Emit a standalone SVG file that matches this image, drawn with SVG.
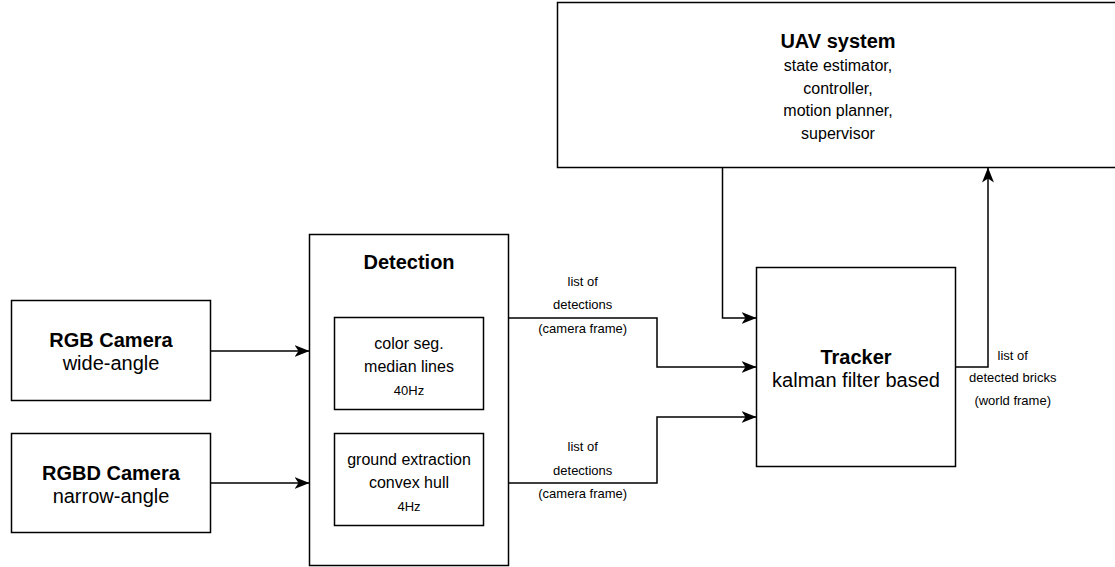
<svg xmlns="http://www.w3.org/2000/svg" width="1115" height="567" viewBox="0 0 1115 567">
<style>
  .box { fill: #ffffff; stroke: #000000; stroke-width: 1.5; }
  .edge { fill: none; stroke: #000000; stroke-width: 1.5; }
  text { font-family: "Liberation Sans", Arial, sans-serif; fill: #000000; text-anchor: middle; }
  .t { font-size: 20px; font-weight: bold; }
  .n { font-size: 20px; }
  .m { font-size: 16px; }
  .s { font-size: 13px; }
</style>
<defs>
  <marker id="arrow" viewBox="0 0 15 12" refX="15" refY="6" markerWidth="15" markerHeight="12" markerUnits="userSpaceOnUse" orient="auto">
    <path d="M0,0 L15,6 L0,12 L4,6 Z" fill="#000000"/>
  </marker>
</defs>
<rect width="1115" height="567" fill="#ffffff"/>

<g id="uav">
  <rect class="box" x="557.5" y="2.5" width="561" height="165"/>
  <text class="t" x="838" y="47.7">UAV system</text>
  <text class="m" x="838" y="71.4">state estimator,</text>
  <text class="m" x="838" y="94">controller,</text>
  <text class="m" x="838" y="116.4">motion planner,</text>
  <text class="m" x="838" y="139">supervisor</text>
</g>

<g id="rgb-camera">
  <rect class="box" x="11.5" y="300.5" width="199" height="100"/>
  <text class="t" x="111" y="347">RGB Camera</text>
  <text class="n" x="111" y="370">wide-angle</text>
</g>

<g id="rgbd-camera">
  <rect class="box" x="11.5" y="433.5" width="199" height="99"/>
  <text class="t" x="111" y="480">RGBD Camera</text>
  <text class="n" x="111" y="503">narrow-angle</text>
</g>

<g id="detection">
  <rect class="box" x="309.5" y="234.5" width="199" height="331"/>
  <text class="t" x="409" y="269">Detection</text>
</g>

<g id="color-seg">
  <rect class="box" x="334.5" y="317.5" width="149" height="92"/>
  <text class="m" x="409" y="348.7">color seg.</text>
  <text class="m" x="409" y="372.4">median lines</text>
  <text class="s" x="409" y="395.3">40Hz</text>
</g>

<g id="ground-extraction">
  <rect class="box" x="334.5" y="433.5" width="149" height="92"/>
  <text class="m" x="409" y="464.7">ground extraction</text>
  <text class="m" x="409" y="487.7">convex hull</text>
  <text class="s" x="409" y="510.6">4Hz</text>
</g>

<g id="tracker">
  <rect class="box" x="756.5" y="267.5" width="199" height="199"/>
  <text class="t" x="856" y="363.7">Tracker</text>
  <text class="n" x="856" y="387">kalman filter based</text>
</g>

<g id="connectors">
  <path class="edge" d="M210.5,351 H309.5" marker-end="url(#arrow)"/>
  <path class="edge" d="M210.5,483 H309.5" marker-end="url(#arrow)"/>
  <path class="edge" d="M508.5,318 H657 V367 H756.5" marker-end="url(#arrow)"/>
  <path class="edge" d="M508.5,483 H657 V417 H756.5" marker-end="url(#arrow)"/>
  <path class="edge" d="M722.5,167.5 V318 H756.5" marker-end="url(#arrow)"/>
  <path class="edge" d="M955.5,367 H988 V167.5" marker-end="url(#arrow)"/>
  <text class="s" x="582.7" y="285.6">list of</text>
  <text class="s" x="582.7" y="309">detections</text>
  <text class="s" x="582.7" y="333">(camera frame)</text>
  <text class="s" x="582.7" y="451.3">list of</text>
  <text class="s" x="582.7" y="474.6">detections</text>
  <text class="s" x="582.7" y="498">(camera frame)</text>
  <text class="s" x="1012.7" y="359.6">list of</text>
  <text class="s" x="1012.7" y="382">detected bricks</text>
  <text class="s" x="1012.7" y="404.6">(world frame)</text>
</g>
</svg>
